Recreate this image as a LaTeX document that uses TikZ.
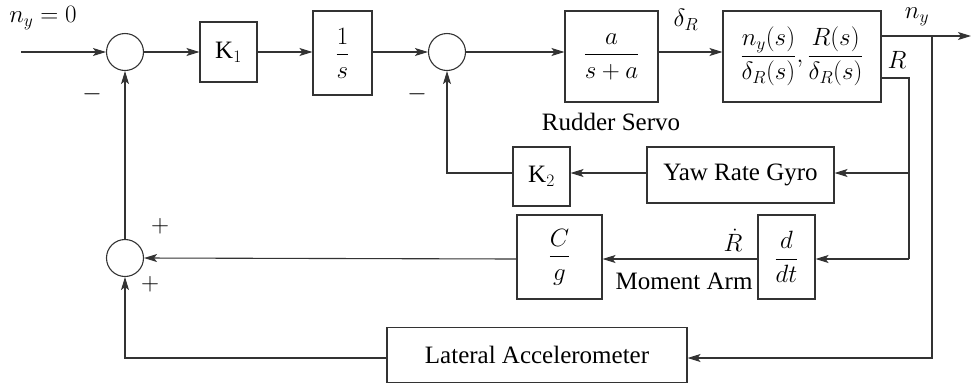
\documentclass[tikz,border=0pt]{standalone}
\usepackage{fix-cm}
\usepackage{amsmath}
\usepackage{fontspec}
\setmainfont{Liberation Serif}
\usetikzlibrary{arrows.meta}
\begin{document}
\begin{tikzpicture}[x=1pt,y=-1pt,
  font=\fontsize{25}{30}\selectfont,
  line width=1.1pt, color=black!80,
  >={Stealth[length=13pt,width=8pt,inset=3pt]},
  sumnode/.style={circle,draw,minimum size=37pt,inner sep=0pt},
  blk/.style={rectangle,draw,inner sep=0pt,text=black},
  lbl/.style={inner sep=0pt,text=black}]
\useasboundingbox (0,0) rectangle (972,384);
% summing junctions
\node[sumnode] (c1) at (125,52) {};
\node[sumnode] (c2) at (447,52) {};
\node[sumnode] (c3) at (125,258) {};
% blocks
\node[blk,minimum width=57pt,minimum height=60pt] (k1) at (228.5,52) {K$_1$};
\node[blk,minimum width=59pt,minimum height=84pt] (integ) at (342.5,53) {$\dfrac{1}{s}$};
\node[blk,minimum width=93pt,minimum height=91pt] (servo) at (611.5,56.5) {$\dfrac{a}{s+a}$};
\node[blk,minimum width=158pt,minimum height=91pt] (plant) at (802,56.5) {$\dfrac{n_y(s)}{\delta_R(s)},\dfrac{R(s)}{\delta_R(s)}$};
\node[blk,minimum width=57pt,minimum height=59pt] (k2) at (541.5,176.5) {K$_2$};
\node[blk,minimum width=187pt,minimum height=56pt] (gyro) at (740.5,175) {Yaw Rate Gyro};
\node[blk,minimum width=85pt,minimum height=84pt] (cg) at (559.5,257) {$\dfrac{C}{g}$};
\node[blk,minimum width=57pt,minimum height=84pt] (ddt) at (786.5,257) {$\dfrac{d}{dt}$};
\node[blk,minimum width=300pt,minimum height=55pt] (lat) at (537,355) {Lateral Accelerometer};
% coordinates
\coordinate (in) at (21,52);
\coordinate (out) at (971,36);
\coordinate (bny) at (932,36);
\coordinate (ly) at (932,358);
\coordinate (bR) at (909,78);
\coordinate (rg) at (909,173);
\coordinate (rd) at (909,259);
% labels
\node[lbl] (lny0) at (43,18) {$n_y = 0$};
\node[lbl] (m1) at (92,94) {$-$};
\node[lbl] (m2) at (417,94) {$-$};
\node[lbl] (ldr) at (686,20) {$\delta_R$};
\node[lbl] (lrs) at (611,122) {Rudder Servo};
\node[lbl] (lny) at (917,17) {$n_y$};
\node[lbl] (lR) at (897,60) {$R$};
\node[lbl] (lRd) at (733,240) {$\dot R$};
\node[lbl,anchor=east] (lma) at (753,281) {Moment Arm};
\node[lbl] (p1) at (160,226) {$+$};
\node[lbl] (p2) at (150,284) {$+$};
% connectors
\draw[->] (in) -- (c1.west);
\draw[->] (c1.east) -- (k1.west);
\draw[->] (k1.east) -- (k1.east -| integ.west);
\draw[->] (c2.west -| integ.east) -- (c2.west);
\draw[->] (c2.east) -- (c2.east -| servo.west);
\draw[->] (c2.east -| servo.east) -- (c2.east -| plant.west);
\draw[->] (bny -| plant.east) -- (out);
\draw[->] (bny) -- (ly) -- (ly -| lat.east);
\draw (bR -| plant.east) -- (bR) -- (rd);
\draw[->] (rg) -- (rg -| gyro.east);
\draw[->] (rd) -- (rd -| ddt.east);
\draw[->] (rg -| gyro.west) -- (rg -| k2.east);
\draw[->] (rg -| k2.west) -- (rg -| c2) -- (c2.south);
\draw[->] (rd -| ddt.west) -- (rd -| cg.east);
\draw[->] (rd -| cg.west) -- (c3.east);
\draw[->] (c3.north) -- (c1.south);
\draw[->] (ly -| lat.west) -- (ly -| c3) -- (c3.south);
\end{tikzpicture}
\end{document}
